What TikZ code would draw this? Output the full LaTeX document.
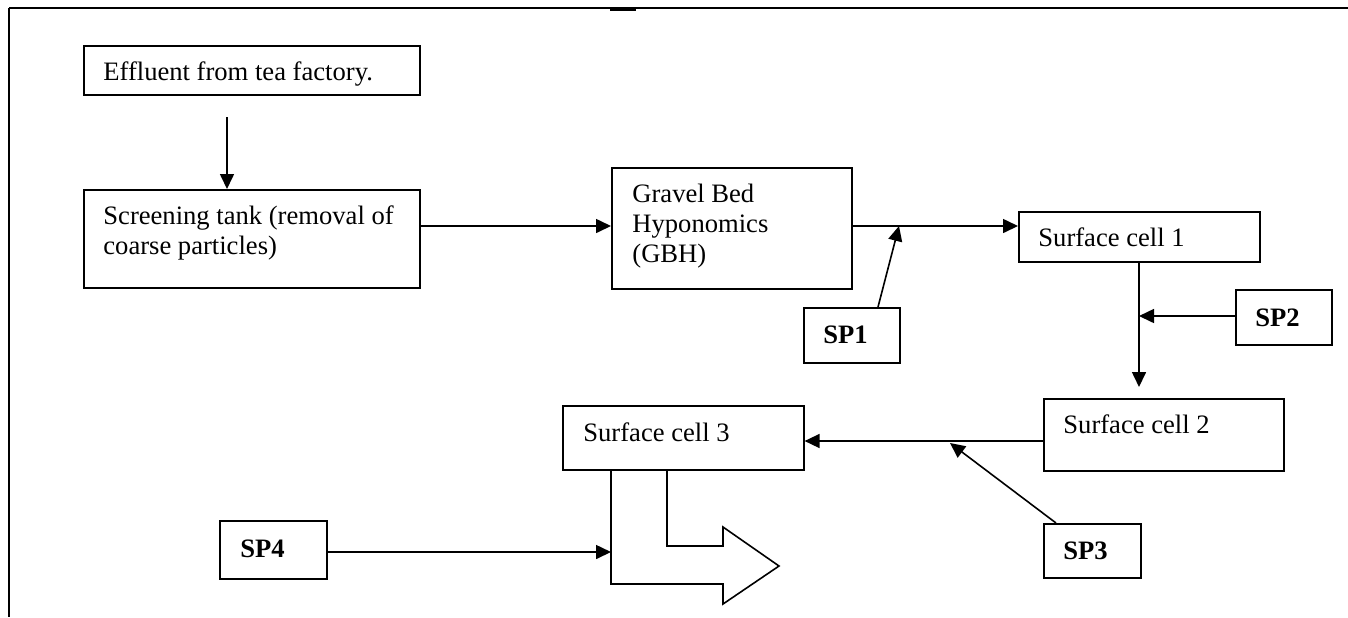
\documentclass[tikz,border=0pt]{standalone}
\usepackage{fontspec}
\setmainfont{Liberation Serif}
\usetikzlibrary{arrows.meta}
\begin{document}
\begin{tikzpicture}[x=0.5pt,y=-0.5pt,
  box/.style={draw,line width=0.8pt,inner sep=0pt},
  txt/.style={anchor=base west,inner sep=0pt,font=\fontsize{13.3pt}{15pt}\selectfont},
  sptxt/.style={txt,font=\fontsize{13.3pt}{15pt}\selectfont\bfseries},
  flow/.style={line width=0.8pt,-{Triangle[length=7.5pt,width=7pt]}},
  border/.style={line width=1pt}]
\useasboundingbox (0,0) rectangle (1348,617);
% outer frame
\draw[border] (9,8) -- (1348,8);
\draw[border] (9,8) -- (9,617);
\fill (610,8) rectangle (636,10.5);
% boxes
\node[box,minimum width=168pt,minimum height=24.5pt,anchor=north west] (eff) at (83,45) {};
\node[txt] (effT) at (103,80) {Effluent from tea factory.};
\node[box,minimum width=168pt,minimum height=49pt,anchor=north west] (scr) at (83,189) {};
\node[txt] (scrT1) at (103,224) {Screening tank (removal of};
\node[txt] (scrT2) at (103,254) {coarse particles)};
\node[box,minimum width=120pt,minimum height=60.5pt,anchor=north west] (gbh) at (611,167) {};
\node[txt] (gbhT1) at (632,202) {Gravel Bed};
\node[txt] (gbhT2) at (632,232) {Hyponomics};
\node[txt] (gbhT3) at (632,262) {(GBH)};
\node[box,minimum width=120.5pt,minimum height=25pt,anchor=north west] (sc1) at (1018,211) {};
\node[txt] (sc1T) at (1038,246) {Surface cell 1};
\node[box,minimum width=48pt,minimum height=27.5pt,anchor=north west] (sp1) at (803,307) {};
\node[sptxt] (sp1T) at (823,343) {SP1};
\node[box,minimum width=48pt,minimum height=27.5pt,anchor=north west] (sp2) at (1235,289) {};
\node[sptxt] (sp2T) at (1255,326) {SP2};
\node[box,minimum width=120pt,minimum height=36pt,anchor=north west] (sc2) at (1043,398) {};
\node[txt] (sc2T) at (1063,433) {Surface cell 2};
\node[box,minimum width=120.5pt,minimum height=32pt,anchor=north west] (sc3) at (562,405) {};
\node[txt] (sc3T) at (583,441) {Surface cell 3};
\node[box,minimum width=48.5pt,minimum height=27pt,anchor=north west] (sp3) at (1043,523) {};
\node[sptxt] (sp3T) at (1063,559) {SP3};
\node[box,minimum width=53.5pt,minimum height=29pt,anchor=north west] (sp4) at (219,520) {};
\node[sptxt] (sp4T) at (240,557) {SP4};
% connector helper coordinates
\coordinate (effD) at (227,117);
\coordinate (j1) at (899,226);
\coordinate (j2) at (1139,316);
\coordinate (sc2In) at (1139,387);
\coordinate (j3) at (950,443);
% connectors
\draw[flow] (effD) -- (scr.north -| effD);
\draw[flow] (scr.east |- 0,226) -- (gbh.west |- 0,226);
\draw[flow] (gbh.east |- 0,226) -- (sc1.west |- 0,226);
\draw[flow] (sp1.north -| 878,0) -- (j1);
\draw[flow] (sc1.south -| j2) -- (sc2In);
\draw[flow] (sp2.west |- j2) -- (j2);
\draw[flow] (sc2.west |- 0,441) -- (sc3.east |- 0,441);
\draw[flow] (sp3.north -| 1056,0) -- (j3);
\draw[flow] (sp4.east |- 0,552) -- (611,552);
% outlet block arrow
\draw[line width=0.8pt,line join=miter] (sc3.south -| 611,0) -- (611,584) -- (723,584) -- (723,604) -- (779,566) -- (723,527) -- (723,546) -- (667,546) -- (sc3.south -| 667,0);
\end{tikzpicture}
\end{document}
